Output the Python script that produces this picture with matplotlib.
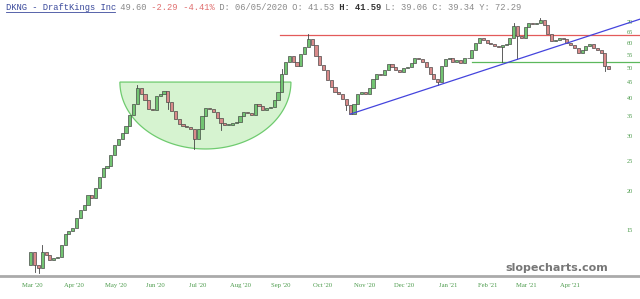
import numpy as np
import pandas as pd
import matplotlib
matplotlib.use("Agg")
import matplotlib.pyplot as plt
from matplotlib.lines import Line2D

# ---------------- data (2-trading-day candles, closes) -------------
start_date = "2020-03-02"
first_open = 11.6
closes = [
    12.7, 11.6, 11.3, 12.7, 12.5, 12.0, 12.2, 12.3, 13.4, 14.6,
    14.9, 15.2, 16.4, 17.4, 18.1, 19.5, 19.1, 20.5, 22.3, 23.7,
    24.1, 26.2, 28.2, 29.5, 30.8, 32.5, 35.3, 38.3, 43.0, 41.2,
    39.4, 37.0, 36.6, 40.6, 41.2, 42.0, 38.8, 36.3, 34.3, 33.0,
    32.5, 32.2, 31.9, 29.5, 31.9, 35.0, 37.2, 37.0, 36.0, 34.6,
    33.2, 32.7, 32.7, 33.2, 33.4, 35.0, 36.0, 35.8, 35.3, 38.3,
    37.7, 36.6, 37.2, 37.5, 39.4, 41.7, 48.0, 52.4, 54.6, 52.4,
    50.8, 55.5, 58.6, 62.0, 59.3, 54.6, 51.1, 49.2, 45.7, 43.4,
    41.7, 41.2, 39.7, 38.0, 35.5, 38.3, 41.2, 41.7, 41.2, 43.0,
    46.1, 48.0, 47.4, 49.2, 51.5, 50.4, 49.2, 48.5, 49.9, 50.4,
    51.8, 53.7, 53.4, 52.4, 50.4, 48.0, 46.1, 45.0, 50.8, 53.4,
    53.7, 52.4, 53.0, 52.0, 53.7, 54.0, 57.1, 60.4, 62.4, 61.5,
    60.4, 59.7, 58.9, 58.6, 59.3, 60.0, 62.4, 68.3, 63.4, 62.4,
    67.6, 70.0, 69.6, 70.0, 71.7, 68.8, 64.5, 61.0, 61.5, 62.4,
    62.0, 60.4, 59.3, 57.9, 55.9, 57.1, 58.9, 60.0, 57.9, 57.1,
    55.9, 50.8, 49.6,
]
# notable wicks: candle number -> low / high
wick_lows = {1: 11.0, 2: 10.9, 36: 37.0, 43: 27.4, 50: 31.5, 83: 36.5,
             107: 44.0, 124: 52.4, 128: 53.5, 151: 49.0}
wick_highs = {3: 13.4, 28: 44.0, 66: 49.5, 73: 64.6, 127: 70.0, 134: 72.3}

month_starts = ["2020-03-01", "2020-04-01", "2020-05-01", "2020-06-01", "2020-07-01",
                "2020-08-01", "2020-09-01", "2020-10-01", "2020-11-01", "2020-12-01",
                "2021-01-01", "2021-02-01", "2021-03-01", "2021-04-01"]
month_labels = ["Mar '20", "Apr '20", "May '20", "Jun '20", "Jul '20", "Aug '20",
                "Sep '20", "Oct '20", "Nov '20", "Dec '20", "Jan '21", "Feb '21",
                "Mar '21", "Apr '21"]
price_ticks = [15, 20, 25, 30, 35, 40, 45, 50, 55, 60, 65, 70]

# drawn levels / pattern
resistance = 63.9
support = 52.2
trend_start = (168, 35.5)
trend_end = (320.5, 71.9)
cup_left, cup_right, cup_top, cup_bottom = 46.8, 136.8, 45.05, 27.4

# ---------------- figure ----------------
W, H = 640, 299
fig = plt.figure(figsize=(W / 100, H / 100), dpi=100)
ax = fig.add_axes([0, 23 / H, 1, 276 / H])
ax.set_yscale("log")
ax.set_ylim(10.66, 82.9)
ax.set_xlim(-16.3, 320.5)

bdays = pd.bdate_range(start_date, periods=400)
n = len(closes)
idx = np.arange(n) * 2
opens = [first_open] + closes[:-1]

# cup
t = np.linspace(0, np.pi, 120)
cx = (cup_left + cup_right) / 2
a = (cup_right - cup_left) / 2
lt, lb = np.log(cup_top), np.log(cup_bottom)
xs = cx + a * np.cos(t)
ys = np.exp(lt - (lt - lb) * np.sin(t))
ax.fill(xs, ys, facecolor="#d6f3d0", edgecolor="#6fcb6f", lw=0.9, zorder=1)

# lines
ax.plot([(280 - 31) / 1.9, 320.5], [resistance, resistance], color="#e35a5a", lw=0.9, zorder=2)
ax.plot([(472 - 31) / 1.9, 320.5], [support, support], color="#5cb85c", lw=0.9, zorder=2)
ax.plot([trend_start[0], trend_end[0]], [trend_start[1], trend_end[1]], color="#4444dd", lw=0.9, zorder=4)

# candles
w = 1.6
for k in range(n):
    o, c = opens[k], closes[k]
    x = idx[k]
    lo = min(o, c)
    hi = max(o, c)
    if k in wick_lows:
        ax.plot([x, x], [wick_lows[k], lo], color="#444444", lw=0.6, zorder=3)
    if k in wick_highs:
        ax.plot([x, x], [hi, wick_highs[k]], color="#444444", lw=0.6, zorder=3)
    up = c >= o
    fc = "#72c472" if up else "#d98a8a"
    h = max(hi - lo, hi * 0.006)
    ax.add_patch(plt.Rectangle((x - w / 2, lo), w, h, facecolor=fc,
                               edgecolor="#3a3a3a", lw=0.45, zorder=3))

# axes styling
for s in ["top", "left", "right"]:
    ax.spines[s].set_visible(False)
ax.spines["bottom"].set_color("#aaaaaa")
ax.spines["bottom"].set_linewidth(2)
ax.set_yticks([])
ax.yaxis.set_minor_locator(matplotlib.ticker.NullLocator())
tick_pos = [bdays.searchsorted(pd.Timestamp(m)) + 0.5 for m in month_starts]
ax.set_xticks(tick_pos)
ax.set_xticklabels(month_labels, fontsize=4.8, color="#4a9a4a", family="Liberation Serif")
ax.tick_params(axis="x", length=0, pad=5)

for p in price_ticks:
    ax.text(630 / 640, p, str(p), transform=ax.get_yaxis_transform(),
            ha="center", va="center", fontsize=4.5, color="#4a9a4a", family="Liberation Serif")

# watermark
fig.text(557 / W, 1 - 268 / H, "slopecharts.com", ha="center", va="center",
         fontsize=8, fontweight="bold", color="#777777", family="DejaVu Sans")

# title
cw = 5.2
pieces = [
    ("DKNG - DraftKings Inc", "#3b4a9c", "normal"),
    (" 49.60", "#8a8a8a", "normal"),
    (" -2.29", "#e07070", "normal"),
    (" -4.41%", "#e07070", "normal"),
    (" D: 06/05/2020", "#8a8a8a", "normal"),
    (" O: 41.53", "#8a8a8a", "normal"),
    (" H: 41.59", "#333333", "bold"),
    (" L: 39.06", "#8a8a8a", "normal"),
    (" C: 39.34", "#8a8a8a", "normal"),
    (" Y: 72.29", "#8a8a8a", "normal"),
]
pos = 6
for txt, col, wt in pieces:
    fig.text(pos / W, 1 - 7 / H, txt, ha="left", va="center", fontsize=6.3,
             color=col, fontweight=wt, family="Liberation Mono")
    pos += len(txt) * cw
fig.add_artist(Line2D([6 / W, 115 / W], [1 - 11.5 / H, 1 - 11.5 / H], color="#3b4a9c", lw=0.6))

fig.savefig("out.png", dpi=100)
